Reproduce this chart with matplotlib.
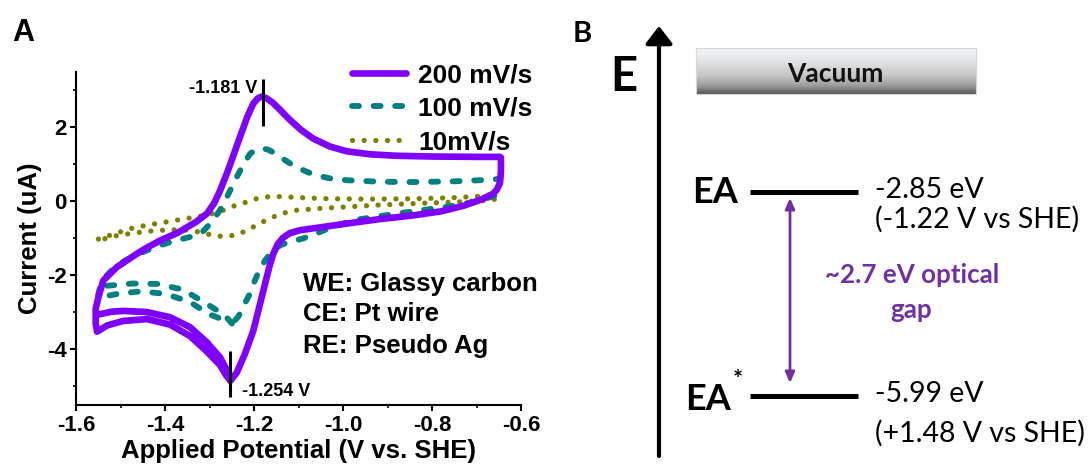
import numpy as np
import matplotlib
matplotlib.use('Agg')
import matplotlib.pyplot as plt
from matplotlib.ticker import FixedLocator, FixedFormatter, MultipleLocator
from matplotlib.colors import LinearSegmentedColormap

plt.rcParams['axes.unicode_minus'] = False

# ---------------- Panel A data (CV curves) ----------------
purple_x = [-1.552, -1.520, -1.494, -1.441, -1.389, -1.344, -1.307, -1.277, -1.262, -1.254,
            -1.262, -1.277, -1.307, -1.344, -1.389, -1.441, -1.494, -1.530, -1.553,
            -1.556, -1.556, -1.550, -1.539, -1.509, -1.464, -1.441, -1.410, -1.372, -1.344,
            -1.330, -1.306, -1.290, -1.277, -1.260, -1.245, -1.232, -1.215, -1.202, -1.192,
            -1.183, -1.172, -1.158, -1.142, -1.120, -1.095, -1.067, -1.030, -0.992, -0.940,
            -0.880, -0.800, -0.700, -0.648,
            -0.646, -0.646, -0.648, -0.655, -0.663, -0.690, -0.730, -0.780, -0.843, -0.918,
            -0.992, -1.050, -1.097, -1.120, -1.135, -1.147, -1.157, -1.165, -1.172, -1.187,
            -1.202, -1.221, -1.239, -1.254]
purple_y = [-3.06, -2.98, -2.96, -2.99, -3.13, -3.40, -3.80, -4.21, -4.55, -4.82,
            -4.72, -4.42, -4.05, -3.64, -3.33, -3.18, -3.23, -3.35, -3.52,
            -3.30, -2.90, -2.59, -2.14, -1.78, -1.42, -1.25, -1.05, -0.85, -0.65,
            -0.55, -0.33, -0.05, 0.28, 0.80, 1.30, 1.74, 2.30, 2.64, 2.78,
            2.83, 2.78, 2.66, 2.47, 2.20, 1.93, 1.69, 1.48, 1.35, 1.27,
            1.23, 1.21, 1.20, 1.20,
            1.18, 0.80, 0.50, 0.32, 0.21, 0.05, -0.12, -0.27, -0.38, -0.48,
            -0.60, -0.70, -0.78, -0.86, -0.98, -1.15, -1.41, -1.72, -2.05, -2.77,
            -3.49, -4.12, -4.62, -4.85]

teal_x = [-1.530, -1.474, -1.418, -1.361, -1.313, -1.266, -1.250,
          -1.269, -1.303, -1.344, -1.399, -1.455, -1.507, -1.552,
          -1.546, -1.535, -1.515, -1.490, -1.460, -1.420, -1.380, -1.340, -1.314, -1.295,
          -1.277, -1.260, -1.239, -1.222, -1.209, -1.195, -1.183, -1.170, -1.155, -1.142,
          -1.110, -1.067, -1.030, -0.992, -0.920, -0.843, -0.750, -0.693, -0.655,
          -0.648, -0.648, -0.660,
          -0.700, -0.768, -0.880, -0.977, -1.030, -1.067, -1.090, -1.127, -1.142, -1.160,
          -1.176, -1.190, -1.200, -1.210, -1.222, -1.235, -1.250]
teal_y = [-2.28, -2.22, -2.23, -2.38, -2.72, -3.08, -3.30,
          -3.20, -3.04, -2.72, -2.50, -2.43, -2.50, -2.60,
          -2.30, -2.05, -1.80, -1.60, -1.42, -1.22, -1.07, -0.95, -0.80, -0.55,
          -0.24, 0.15, 0.66, 1.05, 1.29, 1.40, 1.43, 1.40, 1.31, 1.20,
          0.95, 0.72, 0.62, 0.57, 0.53, 0.52, 0.54, 0.57, 0.60,
          0.55, 0.39, 0.15,
          0.00, -0.15, -0.33, -0.51, -0.72, -0.90, -1.00, -1.12, -1.19, -1.35,
          -1.60, -1.90, -2.18, -2.50, -2.78, -3.10, -3.31]

olive_x = [-1.550, -1.520, -1.479, -1.440, -1.404, -1.360, -1.329, -1.300, -1.269, -1.240,
           -1.217, -1.195, -1.172, -1.150, -1.127, -1.080, -1.030, -0.940, -0.843, -0.750,
           -0.663, -0.655, -0.663,
           -0.750, -0.843, -0.920, -0.992, -1.050, -1.105, -1.135, -1.157, -1.180, -1.202,
           -1.225, -1.247, -1.270, -1.292, -1.320, -1.344, -1.380, -1.404, -1.440, -1.479,
           -1.520, -1.546]
olive_y = [-1.02, -0.90, -0.74, -0.64, -0.57, -0.48, -0.42, -0.35, -0.24, -0.10,
           -0.02, 0.07, 0.12, 0.13, 0.12, 0.09, 0.07, 0.06, 0.07, 0.10,
           0.16, 0.12, 0.03,
           -0.02, -0.06, -0.10, -0.15, -0.19, -0.24, -0.32, -0.42, -0.55, -0.69,
           -0.83, -0.92, -0.95, -0.92, -0.84, -0.78, -0.77, -0.78, -0.81, -0.87,
           -0.95, -1.05]

series_labels = ['200 mV/s', '100 mV/s', '10mV/s']
peak_anodic = -1.181
peak_cathodic = -1.254
electrode_lines = ['WE: Glassy carbon', 'CE: Pt wire', 'RE: Pseudo Ag']

xtick_values = [-1.6, -1.4, -1.2, -1.0, -0.8, -0.6]
xtick_labels = ['-1.6', '-1.4', '-1.2', '-1.0', '-0.8', '-0.6']
ytick_values = [-4, -2, 0, 2]
ytick_labels = ['-4', '-2', '0', '2']

# ---------------- Panel B data (energy levels) ----------------
level_names = ['EA', 'EA']
level_energy = [-2.85, -5.99]
level_she = ['(-1.22 V vs SHE)', '(+1.48 V vs SHE)']
gap_text = ['~2.7 eV optical', 'gap']

W, H = 1089, 466
fig = plt.figure(figsize=(W / 100, H / 100), dpi=100)

# ======== Panel B: full-figure axes, x in pixels, y in eV ========
axB = fig.add_axes([0, 0, 1, 1])
E_TOP, E_BOT = 0.105, -7.067
axB.set_xlim(0, W)
axB.set_ylim(E_BOT, E_TOP)
axB.axis('off')
axB.patch.set_visible(False)


def ev(py):
    return E_TOP - py * (E_TOP - E_BOT) / H


fB = 'Lato'
purple_txt = '#7030a0'

# vacuum gradient box
grad_cmap = LinearSegmentedColormap.from_list(
    'vac', [(0.0, '#f3f5f8'), (0.3, '#e2e3e5'), (0.6, '#c6c6c6'),
            (0.82, '#9c9c9c'), (1.0, '#575757')])
grad = np.linspace(0, 1, 200).reshape(-1, 1)
axB.imshow(grad, cmap=grad_cmap, aspect='auto', extent=(696, 976, ev(94), ev(48)),
           origin='upper', zorder=1, interpolation='bilinear')
axB.plot([696, 976, 976, 696, 696], [ev(48), ev(48), ev(94), ev(94), ev(48)],
         color='#d8d8d8', lw=0.8, zorder=2)
axB.text(835, ev(81.7), 'Vacuum', family=fB, weight='bold', fontsize=19,
         ha='center', va='baseline', color='#111111', zorder=3)

# E axis arrow
axB.annotate('', xy=(659, ev(26)), xytext=(659, ev(456)),
             arrowprops=dict(arrowstyle='-|>,head_length=0.26,head_width=0.2',
                             color='black', lw=3, mutation_scale=41,
                             shrinkA=0, shrinkB=0))
axB.text(623.5, ev(90.7), 'E', family=fB, weight='bold', fontsize=34,
         ha='center', va='baseline')
axB.text(582, ev(41.7), 'B', family=fB, weight='bold', fontsize=21,
         ha='center', va='baseline')

# energy levels
axB.hlines(level_energy, 750, 858, color='black', lw=3.6)
axB.text(738, ev(203.3), level_names[0], family=fB, weight='bold', fontsize=26,
         ha='right', va='baseline')
axB.text(731, ev(410), level_names[1], family=fB, weight='bold', fontsize=26,
         ha='right', va='baseline')
axB.text(733, ev(388), '*', family=fB, weight='bold', fontsize=17,
         ha='left', va='baseline')

val_base = [198.3, 401.7]
she_base = [227.7, 441.7]
for e, vb, sb, she in zip(level_energy, val_base, she_base, level_she):
    axB.text(875, ev(vb), f'{e:.2f} eV', family=fB, fontsize=20.5,
             ha='left', va='baseline', color='black')
    axB.text(875, ev(sb), she, family=fB, fontsize=20.5,
             ha='left', va='baseline', color='black')

# optical gap arrow
axB.annotate('', xy=(790, ev(198)), xytext=(790, ev(383)),
             arrowprops=dict(arrowstyle='<|-|>,head_length=0.45,head_width=0.2',
                             color=purple_txt, lw=2, mutation_scale=14,
                             shrinkA=0, shrinkB=0))
axB.text(912.5, ev(283.3), gap_text[0], family=fB, weight='bold', fontsize=18.7,
         ha='center', va='baseline', color=purple_txt)
axB.text(911, ev(318.3), gap_text[1], family=fB, weight='bold', fontsize=18.7,
         ha='center', va='baseline', color=purple_txt)

# ======== Panel A ========
fA = 'Liberation Sans'
axA = fig.add_axes([0.0699, 0.1309, 0.4089, 0.7152])
axA.plot(purple_x, purple_y, color='#8000ff', lw=4.8, solid_joinstyle='round',
         solid_capstyle='round', label=series_labels[0], zorder=3)
axA.plot(teal_x, teal_y, color='#008080', lw=4.2, linestyle=(0, (1.2, 2.5)),
         dash_capstyle='round', label=series_labels[1], zorder=2)
axA.plot(olive_x, olive_y, color='#808000', lw=3.8, linestyle=(0, (0.01, 2.2)),
         dash_capstyle='round', label=series_labels[2], zorder=1)

axA.set_xlim(-1.6, -0.6)
axA.set_ylim(-5.5, 3.5)
for s in ['top', 'right']:
    axA.spines[s].set_visible(False)
for s in ['left', 'bottom']:
    axA.spines[s].set_linewidth(1.5)

axA.xaxis.set_major_locator(FixedLocator(xtick_values))
axA.xaxis.set_major_formatter(FixedFormatter(xtick_labels))
axA.xaxis.set_minor_locator(MultipleLocator(0.1))
axA.yaxis.set_major_locator(FixedLocator(ytick_values))
axA.yaxis.set_major_formatter(FixedFormatter(ytick_labels))
axA.yaxis.set_minor_locator(MultipleLocator(1))
axA.tick_params(which='major', direction='out', length=4, width=1.5, pad=3)
axA.tick_params(which='minor', direction='out', length=2.5, width=1.2)
for lab in axA.get_xticklabels() + axA.get_yticklabels():
    lab.set_family(fA)
    lab.set_weight('bold')
    lab.set_fontsize(16)

axA.set_xlabel('Applied Potential (V vs. SHE)', family=fA, weight='bold',
               fontsize=18.5, labelpad=2)
axA.set_ylabel('Current (uA)', family=fA, weight='bold', fontsize=18.5, labelpad=3)

leg = axA.legend(loc='upper left', bbox_to_anchor=(0.62, 1.026), frameon=False,
                 handlelength=2.05, handletextpad=0.45, labelspacing=0.36,
                 borderaxespad=0, borderpad=0,
                 prop=dict(family=fA, weight='bold', size=19))

# peak markers
axA.vlines(peak_anodic, 2.03, 3.30, color='black', lw=2.2, zorder=5)
axA.vlines(peak_cathodic, -5.29, -4.03, color='black', lw=2.2, zorder=5)
axA.text(-1.194, 2.93, f'{peak_anodic:.3f} V', family=fA, weight='bold', fontsize=13,
         ha='right', va='baseline')
axA.text(-1.2275, -5.27, f'{peak_cathodic:.3f} V', family=fA, weight='bold', fontsize=13,
         ha='left', va='baseline')

for txt, yb in zip(electrode_lines, [-2.41, -3.23, -4.10]):
    axA.text(-1.091, yb, txt, family=fA, weight='bold', fontsize=18.5,
             ha='left', va='baseline')

fig.text(23 / W, 1 - 41 / H, 'A', family=fA, weight='bold', fontsize=22,
         ha='center', va='baseline')

fig.savefig('out.png', dpi=100)
